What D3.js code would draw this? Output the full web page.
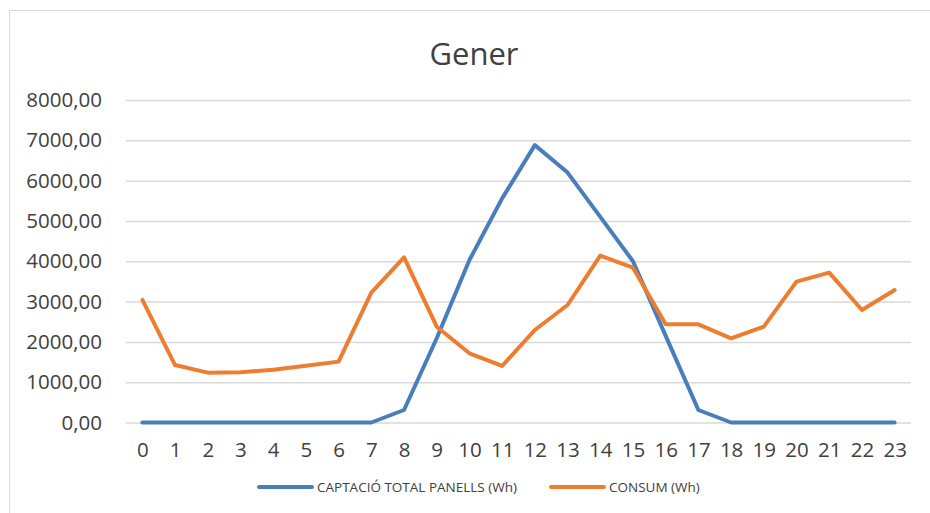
<!DOCTYPE html>
<html>
<head>
<meta charset="utf-8">
<script src="https://cdn.jsdelivr.net/npm/d3@7"></script>
<style>
  html, body { margin: 0; padding: 0; background: #fff; }
  svg { display: block; font-family: "Open Sans", "DejaVu Sans", sans-serif; }
</style>
</head>
<body>
<div id="chart"></div>
<script>
// Hours of the day and the two series (Wh)
const HOURS = d3.range(0, 24);
const CAPTACIO = [0, 0, 0, 0, 0, 0, 0, 0, 310, 2090, 4030, 5560, 6880, 6200, 5100, 4000, 2150, 310, 0, 0, 0, 0, 0, 0];
const CONSUM   = [3040, 1425, 1236, 1245, 1310, 1405, 1510, 3220, 4098, 2377, 1716, 1402, 2295, 2915, 4139, 3841, 2435, 2435, 2088, 2377, 3494, 3717, 2791, 3287];
const Y_TICKS  = [0, 1000, 2000, 3000, 4000, 5000, 6000, 7000, 8000];

const SERIES = [
  { name: "CAPTACIÓ TOTAL PANELLS (Wh)", values: CAPTACIO, color: "#4a7ebb" },
  { name: "CONSUM (Wh)",                 values: CONSUM,   color: "#ed7d31" },
];

const width  = 930;
const height = 513;
const plot = { left: 126, right: 911, top: 100, bottom: 422.5 };

const svg = d3.select("#chart")
  .append("svg")
  .attr("width", width)
  .attr("height", height);

// Chart border (right/bottom edges fall outside the crop)
svg.append("rect")
  .attr("x", 9.5).attr("y", 10.5)
  .attr("width", 930).attr("height", 520)
  .attr("fill", "none")
  .attr("stroke", "#d9d9d9")
  .attr("stroke-width", 1);

const x = d3.scalePoint()
  .domain(HOURS)
  .range([plot.left, plot.right])
  .padding(0.5);

const y = d3.scaleLinear()
  .domain([0, 8000])
  .range([plot.bottom, plot.top]);

// Title
svg.append("text")
  .attr("x", 474)
  .attr("y", 65)
  .attr("text-anchor", "middle")
  .attr("font-size", "31px")
  .attr("fill", "#404040")
  .text("Gener");

// Gridlines + y labels
const fmt = v => d3.format(".2f")(v).replace(".", ",");

const yAxis = svg.append("g")
  .attr("transform", `translate(${plot.left},0)`)
  .call(d3.axisLeft(y)
    .tickValues(Y_TICKS)
    .tickSize(-(plot.right - plot.left))
    .tickPadding(24)
    .tickFormat(fmt));

yAxis.select(".domain").remove();
yAxis.selectAll(".tick line")
  .attr("stroke", "#d9d9d9")
  .attr("stroke-width", 1.5);
yAxis.selectAll(".tick text")
  .attr("fill", "#404040")
  .attr("font-size", "20.5px")
  .attr("font-family", "\"Open Sans\", sans-serif");

// X labels
const xAxis = svg.append("g")
  .attr("transform", `translate(0,${plot.bottom})`)
  .call(d3.axisBottom(x).tickSize(0).tickPadding(20));

xAxis.select(".domain").remove();
xAxis.selectAll(".tick text")
  .attr("fill", "#404040")
  .attr("font-size", "20.5px")
  .attr("font-family", "\"Open Sans\", sans-serif");

// Lines
const line = d3.line()
  .x((d, i) => x(HOURS[i]))
  .y(d => y(d));

svg.append("g")
  .selectAll("path")
  .data(SERIES)
  .join("path")
  .attr("d", d => line(d.values))
  .attr("fill", "none")
  .attr("stroke", d => d.color)
  .attr("stroke-width", 4)
  .attr("stroke-linejoin", "round")
  .attr("stroke-linecap", "round");

// Legend
const legendX = [259, 551];
const legend = svg.append("g")
  .selectAll("g")
  .data(SERIES)
  .join("g")
  .attr("transform", (d, i) => `translate(${legendX[i]},487)`);

legend.append("line")
  .attr("x1", 0).attr("x2", 53)
  .attr("stroke", d => d.color)
  .attr("stroke-width", 4)
  .attr("stroke-linecap", "round");

legend.append("text")
  .attr("x", 58)
  .attr("y", 5)
  .attr("font-size", "13.5px")
  .attr("fill", "#404040")
  .text(d => d.name);
</script>
</body>
</html>
